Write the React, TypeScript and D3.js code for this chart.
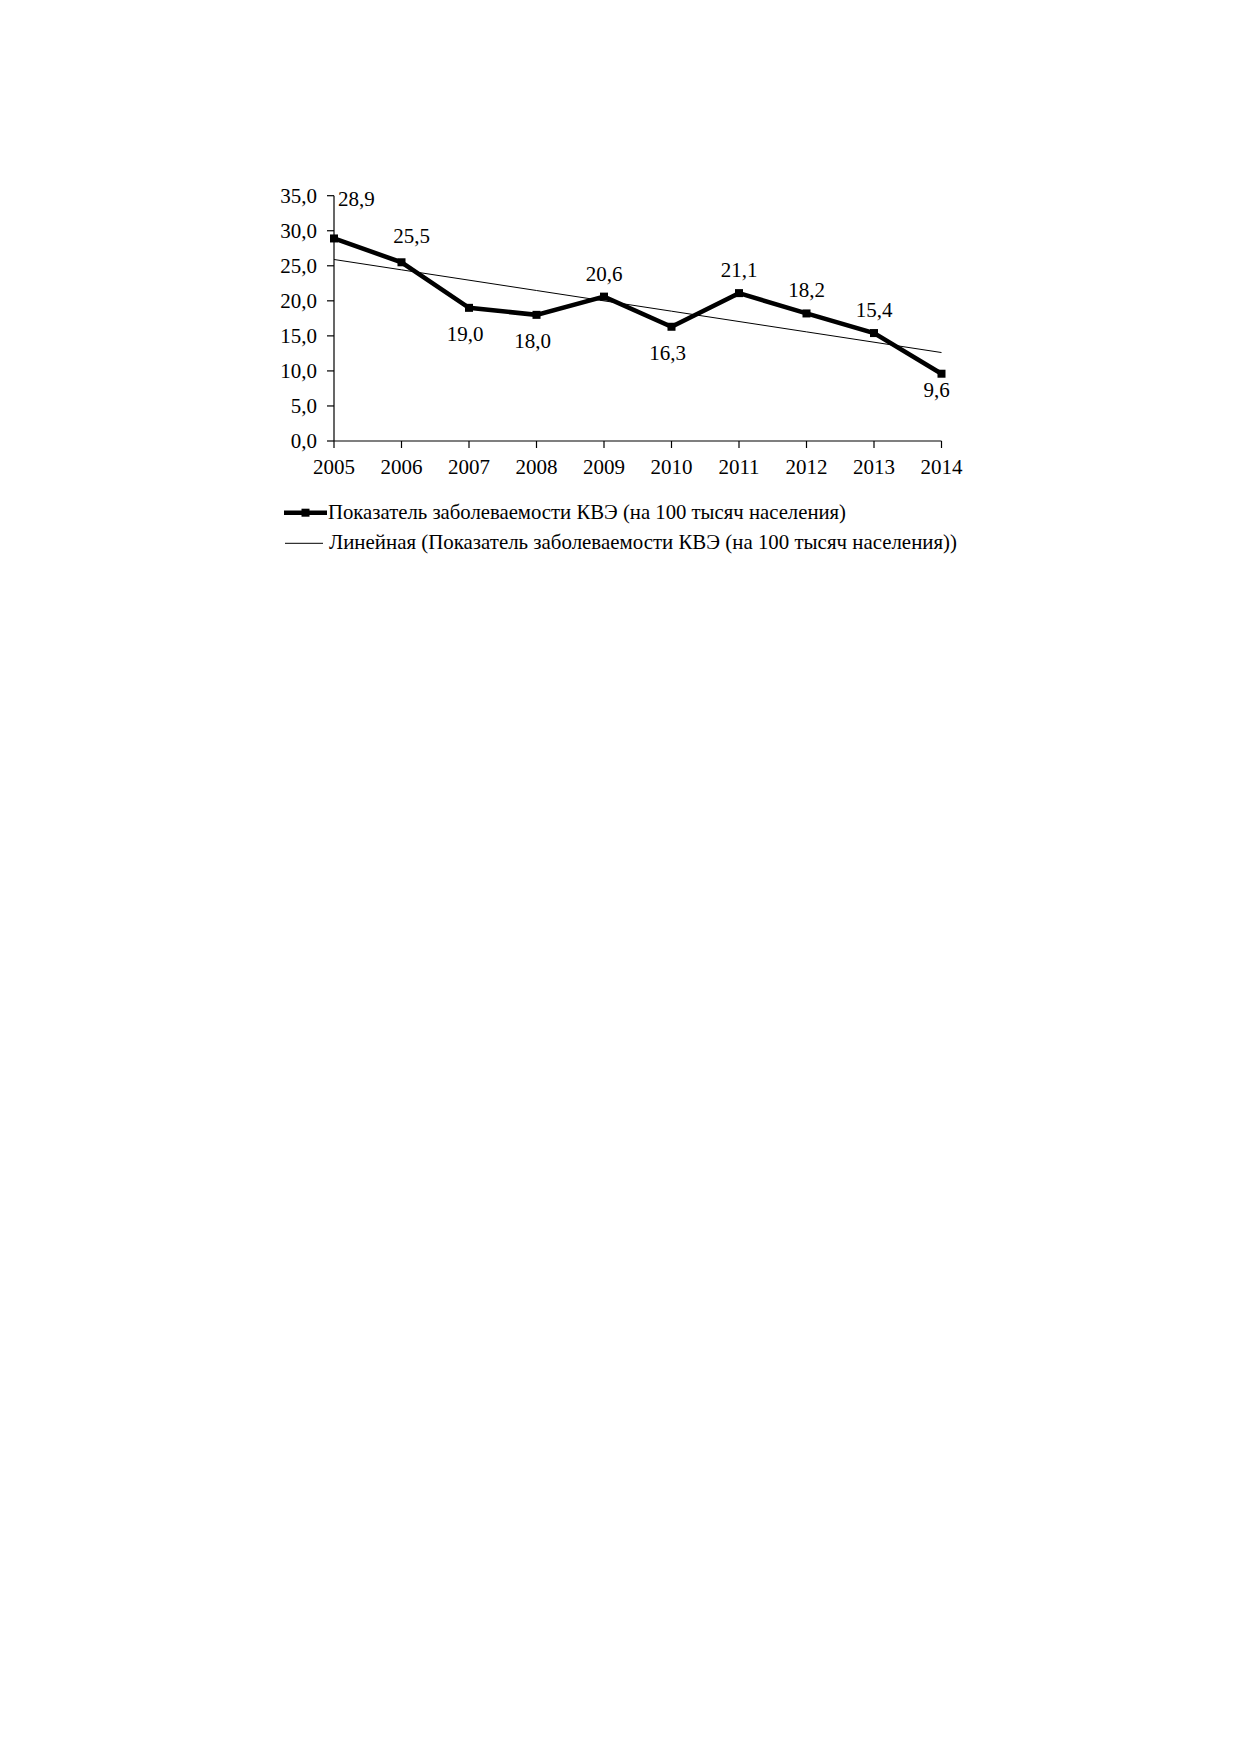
import React from "react";
import * as d3 from "d3";

const years = ["2005", "2006", "2007", "2008", "2009", "2010", "2011", "2012", "2013", "2014"];
const values = [28.9, 25.5, 19.0, 18.0, 20.6, 16.3, 21.1, 18.2, 15.4, 9.6];
const labelPlacement = ["right", "above", "below", "below", "above", "below", "above", "above", "above", "below"];
const yTicks = [0, 5, 10, 15, 20, 25, 30, 35];
const seriesName = "Показатель заболеваемости КВЭ (на 100 тысяч населения)";
const trendName = "Линейная (Показатель заболеваемости КВЭ (на 100 тысяч населения))";

const FONT = "'Liberation Serif', 'Times New Roman', serif";
const FS = 21;
const fmt = (v: number) => v.toFixed(1).replace(".", ",");

export default function App() {
  const x0 = 334, x1 = 941.5;
  const yTop = 195.7, yBot = 441;
  const x = d3.scalePoint<string>().domain(years).range([x0, x1]);
  const y = d3.scaleLinear().domain([0, 35]).range([yBot, yTop]);

  // linear trend (least squares)
  const idx = years.map((_, i) => i);
  const mx = d3.mean(idx)!;
  const my = d3.mean(values)!;
  const sxy = d3.sum(idx, (i) => (i - mx) * (values[i] - my));
  const sxx = d3.sum(idx, (i) => (i - mx) * (i - mx));
  const slope = sxy / sxx;
  const intercept = my - slope * mx;
  const trend = idx.map((i) => intercept + slope * i);

  const line = d3
    .line<number>()
    .x((_, i) => x(years[i])!)
    .y((d) => y(d));

  const last = values.length - 1;

  return (
    <svg
      width={1239}
      height={1754}
      style={{ position: "absolute", left: 0, top: 0, background: "#fff" }}
      fontFamily={FONT}
    >
      <rect x={0} y={0} width={1239} height={1754} fill="#fff" />
      {/* axes */}
      <line x1={x0} x2={x0} y1={yTop} y2={yBot} stroke="#000" strokeWidth={1.2} />
      <line x1={x0} x2={x1} y1={yBot} y2={yBot} stroke="#000" strokeWidth={1.2} />
      {yTicks.map((t) => (
        <g key={t}>
          <line x1={x0 - 7} x2={x0} y1={y(t)} y2={y(t)} stroke="#000" strokeWidth={1.2} />
          <text x={317} y={y(t)} dy="0.35em" textAnchor="end" fontSize={FS}>
            {fmt(t)}
          </text>
        </g>
      ))}
      {years.map((yr) => (
        <g key={yr}>
          <line x1={x(yr)} x2={x(yr)} y1={yBot} y2={yBot + 7} stroke="#000" strokeWidth={1.2} />
          <text x={x(yr)} y={474} textAnchor="middle" fontSize={FS}>
            {yr}
          </text>
        </g>
      ))}
      {/* trend */}
      <path d={line(trend)!} fill="none" stroke="#000" strokeWidth={1} />
      {/* series */}
      <path d={line(values)!} fill="none" stroke="#000" strokeWidth={4.5} strokeLinejoin="miter" />
      {values.map((v, i) => (
        <rect key={i} x={x(years[i])! - 4} y={y(v) - 4} width={8} height={8} fill="#000" />
      ))}
      {values.map((v, i) => {
        const px = x(years[i])!;
        const py = y(v);
        const p = labelPlacement[i];
        let lx = px, ly = py, anchor: "start" | "middle" = "middle";
        if (p === "right") {
          lx = px + 4;
          ly = py - 32.5;
          anchor = "start";
        } else if (p === "above") {
          ly = py - 16;
          if (i === 1) { lx = px + 10; ly = py - 19; }
        } else {
          ly = py + 33;
          lx = px - 4;
          if (i === last) { ly = py + 23.5; lx = px - 5; }
        }
        return (
          <text key={i} x={lx} y={ly} textAnchor={anchor} fontSize={FS}>
            {fmt(v)}
          </text>
        );
      })}
      {/* legend */}
      <line x1={284} x2={327} y1={512.7} y2={512.7} stroke="#000" strokeWidth={4.5} />
      <rect x={301.5} y={508.7} width={8} height={8} fill="#000" />
      <text x={328} y={519} fontSize={FS} textLength={518} lengthAdjust="spacingAndGlyphs">
        {seriesName}
      </text>
      <line x1={285} x2={323} y1={543.3} y2={543.3} stroke="#000" strokeWidth={1} />
      <text x={329} y={549} fontSize={FS} textLength={628} lengthAdjust="spacingAndGlyphs">
        {trendName}
      </text>
    </svg>
  );
}
